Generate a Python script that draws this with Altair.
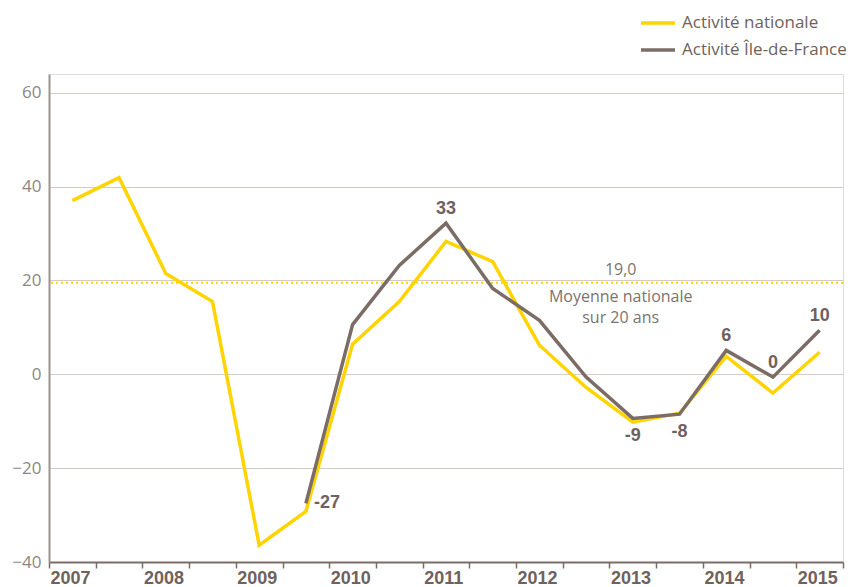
import altair as alt
import pandas as pd

NAT = "Activité nationale"
IDF = "Activité Île-de-France"

periods = [2007, 2007.5, 2008, 2008.5, 2009, 2009.5, 2010, 2010.5, 2011, 2011.5,
           2012, 2012.5, 2013, 2013.5, 2014, 2014.5, 2015]
national = [37.0, 41.9, 21.5, 15.5, -36.4, -29.2, 6.4, 15.5, 28.3, 24.0,
            6.2, -2.8, -10.2, -8.3, 3.8, -4.0, 4.7]

idf_periods = [2009.5, 2010, 2010.5, 2011, 2011.5, 2012, 2012.5, 2013, 2013.5, 2014, 2014.5, 2015]
idf = [-27.5, 10.6, 23.2, 32.2, 18.3, 11.5, -0.6, -9.4, -8.5, 5.1, -0.6, 9.4]

# value labels on the Île-de-France series
lab_above_x = [2011, 2014, 2014.5, 2015]
lab_above_y = [32.2, 5.1, -0.6, 9.4]
lab_above_t = ["33", "6", "0", "10"]
lab_below_x = [2013, 2013.5]
lab_below_y = [-9.4, -8.5]
lab_below_t = ["-9", "-8"]
lab_right_x = [2009.5]
lab_right_y = [-27.5]
lab_right_t = ["-27"]

avg_value = 19.5
ann_x = [2012.87, 2012.87, 2012.87]
ann_y = [22.3, 16.4, 12.0]
ann_t = ["19,0", "Moyenne nationale", "sur 20 ans"]

x_ticks = [2006.75 + 0.5 * i for i in range(18)]
y_ticks = [-40, -20, 0, 20, 40, 60]

YELLOW = "#ffd400"
GRAY = "#7b6d66"
TXT = "#6f625c"
FONT = "Liberation Sans"
FONT2 = "Open Sans"

df = pd.DataFrame(
    {"period": periods + idf_periods,
     "value": national + idf,
     "series": [NAT] * len(periods) + [IDF] * len(idf_periods)}
)

xscale = alt.Scale(domain=[2006.75, 2015.25], nice=False, zero=False)
yscale = alt.Scale(domain=[-40, 64], nice=False, zero=False)

xaxis = alt.Axis(
    values=x_ticks,
    labelExpr="datum.value % 1 == 0.75 ? format(datum.value + 0.25, 'd') : ''",
    labelAlign="left", labelFlush=False, labelOverlap=False,
    labelFont=FONT, labelFontWeight="bold", labelFontSize=18, labelColor=TXT,
    labelPadding=1, labelOffset=1,
    tickSize=6, tickWidth=1.5, tickColor=GRAY,
    domainColor=GRAY, domainWidth=2, grid=False, title=None,
)
yaxis = alt.Axis(
    values=y_ticks, grid=True, gridColor="#d3cbc4", gridWidth=1,
    ticks=False, domainColor="#9d938d", domainWidth=2,
    labelFont=FONT2, labelFontSize=17, labelColor="#8f8680", labelPadding=8,
    title=None,
)

base = alt.Chart(df)

grid_layer = alt.Chart(pd.DataFrame({"v": [0]})).mark_rule(opacity=0).encode(
    x=alt.X("v:Q", scale=xscale, axis=xaxis),
    y=alt.Y("v:Q", scale=yscale, axis=yaxis),
)

avg_rule = alt.Chart(pd.DataFrame({"v": [avg_value]})).mark_rule(
    color=YELLOW, strokeDash=[2, 3], strokeWidth=2
).encode(y=alt.Y("v:Q", scale=yscale))

lines = base.mark_line(strokeWidth=3.5, strokeJoin="miter").encode(
    x=alt.X("period:Q", scale=xscale, axis=xaxis),
    y=alt.Y("value:Q", scale=yscale, axis=yaxis),
    color=alt.Color(
        "series:N",
        scale=alt.Scale(domain=[NAT, IDF], range=[YELLOW, GRAY]),
        legend=alt.Legend(
            title=None, orient="none", legendX=590, legendY=-70, padding=0,
            symbolType="stroke", symbolSize=1156, symbolStrokeWidth=3.5,
            labelFont=FONT2, labelFontSize=17, labelColor=TXT, labelOffset=5,
            labelLimit=400, rowPadding=-11,
        ),
    ),
    order=alt.Order("period:Q"),
)

ann = pd.DataFrame({"x": ann_x, "y": ann_y, "t": ann_t})
ann_text = alt.Chart(ann).mark_text(
    font=FONT2, fontSize=16, color="#7d736e", baseline="middle"
).encode(x=alt.X("x:Q", scale=xscale), y=alt.Y("y:Q", scale=yscale), text="t:N")

def labels(xs, ys, ts, **kw):
    d = pd.DataFrame({"x": xs, "y": ys, "t": ts})
    return alt.Chart(d).mark_text(
        font=FONT, fontSize=18, fontWeight="bold", color=TXT, **kw
    ).encode(x=alt.X("x:Q", scale=xscale), y=alt.Y("y:Q", scale=yscale), text="t:N")

lab_a = labels(lab_above_x, lab_above_y, lab_above_t, baseline="middle", dy=-14)
lab_b = labels(lab_below_x, lab_below_y, lab_below_t, baseline="middle", dy=18)
lab_r = labels(lab_right_x, lab_right_y, lab_right_t, baseline="middle", align="left", dx=8)

chart = alt.layer(grid_layer, avg_rule, lines, ann_text, lab_a, lab_b, lab_r).properties(
    width=794, height=488,
    autosize=alt.AutoSizeParams(type="none"),
    padding={"left": 41, "top": 66, "right": 8, "bottom": 24},
).configure_view(stroke=None).configure(background="white")

chart.save("out.html", embed_options={"renderer": "svg", "actions": False})
